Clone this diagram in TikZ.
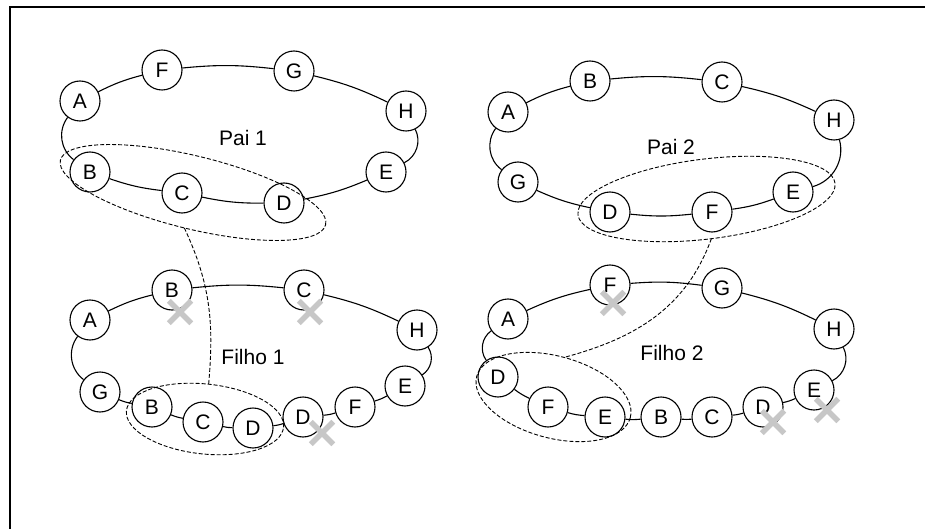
\documentclass[tikz,border=0pt]{standalone}
\usepackage{fontspec}
\setmainfont{Liberation Sans}
\usetikzlibrary{shapes.geometric,shapes.misc}
\tikzset{x=1pt, y=1pt,
  gene/.style={circle, draw, fill=white, line width=1.1pt, minimum size=40pt, inner sep=0pt, font=\fontsize{21}{25}\selectfont},
  rotulo/.style={font=\fontsize{21}{25}\selectfont},
  elo/.style={line width=1.1pt, bend left=6},
  lado/.style={line width=1.1pt, bend left=45},
  trecho/.style={ellipse, draw, dash pattern=on 4pt off 2pt, line width=0.9pt, inner sep=0pt, outer sep=0pt},
  corte/.style={cross out, draw=black!22, line width=5.5pt, minimum size=17pt, inner sep=0pt},
  ponte/.style={dash pattern=on 4pt off 2pt, line width=0.9pt}}

\begin{document}
\begin{tikzpicture}
  \useasboundingbox (0,0) rectangle (925,-529);
  \draw[line width=1.8pt] (925,-7) -- (10,-7) -- (10,-529);

  \node[gene] (p1a) at (80,-101) {A};
  \node[gene] (p1f) at (162,-70) {F};
  \node[gene] (p1g) at (294,-71) {G};
  \node[gene] (p1h) at (406,-111) {H};
  \node[gene] (p1e) at (386,-172) {E};
  \node[gene] (p1d) at (284,-203) {D};
  \node[gene] (p1c) at (182,-193) {C};
  \node[gene] (p1b) at (90,-172) {B};
  \node[rotulo] (p1) at (243,-138) {Pai 1};

  \node[gene] (p2a) at (508,-112) {A};
  \node[gene] (p2b) at (590,-81) {B};
  \node[gene] (p2c) at (722,-82) {C};
  \node[gene] (p2h) at (834,-120) {H};
  \node[gene] (p2e) at (793,-192) {E};
  \node[gene] (p2f) at (712,-212) {F};
  \node[gene] (p2d) at (610,-212) {D};
  \node[gene] (p2g) at (518,-182) {G};
  \node[rotulo] (p2) at (671,-147) {Pai 2};

  \node[gene] (f1a) at (90,-320) {A};
  \node[gene] (f1b) at (172,-290) {B};
  \node[gene] (f1c) at (304,-290) {C};
  \node[gene] (f1h) at (417,-330) {H};
  \node[gene] (f1e) at (405,-386) {E};
  \node[gene] (f1f) at (355,-407) {F};
  \node[gene] (f1d) at (303,-417) {D};
  \node[gene] (f1dd) at (253,-428) {D};
  \node[gene] (f1cc) at (203,-422) {C};
  \node[gene] (f1bb) at (152,-407) {B};
  \node[gene] (f1g) at (100,-392) {G};
  \node[rotulo] (f1) at (253,-357) {Filho 1};

  \node[gene] (f2a) at (508,-319) {A};
  \node[gene] (f2f) at (610,-285) {F};
  \node[gene] (f2g) at (722,-288) {G};
  \node[gene] (f2h) at (834,-329) {H};
  \node[gene] (f2e) at (814,-390) {E};
  \node[gene] (f2d) at (763,-407) {D};
  \node[gene] (f2c) at (712,-417) {C};
  \node[gene] (f2b) at (661,-417) {B};
  \node[gene] (f2ee) at (605,-417) {E};
  \node[gene] (f2ff) at (548,-407) {F};
  \node[gene] (f2dd) at (498,-377) {D};
  \node[rotulo] (f2) at (672,-353) {Filho 2};

  \foreach \u/\v in {p1a/p1f, p1f/p1g, p1g/p1h, p1e/p1d, p1d/p1c, p1c/p1b,
                     p2a/p2b, p2b/p2c, p2c/p2h, p2e/p2f, p2f/p2d, p2d/p2g,
                     f1a/f1b, f1b/f1c, f1c/f1h, f1e/f1f, f1f/f1d, f1d/f1dd, f1dd/f1cc, f1cc/f1bb, f1bb/f1g,
                     f2a/f2f, f2f/f2g, f2g/f2h, f2e/f2d, f2d/f2c, f2c/f2b, f2b/f2ee, f2ee/f2ff, f2ff/f2dd}
    \draw[elo] (\u) to (\v);
  \foreach \u/\v in {p1h/p1e, p1b/p1a, p2h/p2e, p2g/p2a, f1h/f1e, f1g/f1a, f2h/f2e, f2dd/f2a}
    \draw[lado] (\u) to (\v);

  \node[trecho, minimum width=273pt, minimum height=73pt, rotate=-13.7] (s1) at (193,-192.5) {};
  \node[trecho, minimum width=259pt, minimum height=80pt, rotate=7] (s2) at (706.5,-199) {};
  \node[trecho, minimum width=158pt, minimum height=70pt, rotate=-6] (t1) at (205,-419) {};
  \node[trecho, minimum width=159pt, minimum height=82pt, rotate=-15] (t2) at (553.5,-397) {};
  \draw[ponte] (s1.south) to[out=-65, in=85] (t1.north);
  \draw[ponte] (s2.south) to[out=-110, in=15] (t2.north);

  \node[corte] (x1) at (180,-312) {};
  \node[corte] (x2) at (310,-312) {};
  \node[corte] (x3) at (322,-433) {};
  \node[corte] (x4) at (613,-303) {};
  \node[corte] (x5) at (773,-422) {};
  \node[corte] (x6) at (827,-410) {};
\end{tikzpicture}
\end{document}
